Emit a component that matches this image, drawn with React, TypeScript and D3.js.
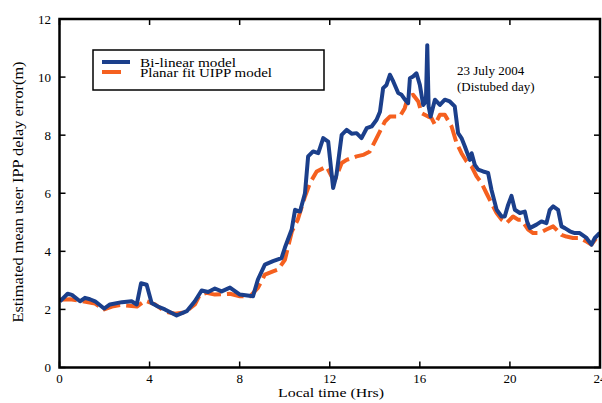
import React from 'react'
import * as d3 from 'd3'

// Bi-linear model: [hour, error (m)]
const bilinear: [number, number][] = [
  [0.02, 2.28], [0.36, 2.54], [0.55, 2.5], [0.91, 2.28], [1.13, 2.4], [1.35, 2.35],
  [1.58, 2.28], [1.98, 2.03], [2.24, 2.17], [2.77, 2.25], [3.2, 2.28], [3.43, 2.17],
  [3.62, 2.9], [3.87, 2.85], [4.09, 2.22], [4.37, 2.1], [4.68, 2.0], [5.2, 1.79],
  [5.65, 1.94], [6.01, 2.28], [6.31, 2.65], [6.6, 2.6], [6.9, 2.72], [7.2, 2.62],
  [7.57, 2.75], [8.01, 2.51], [8.59, 2.45], [8.81, 3.03], [9.12, 3.54], [9.48, 3.66],
  [9.86, 3.77], [10.01, 4.13], [10.31, 4.75], [10.46, 5.43], [10.68, 5.37], [10.9, 6.0],
  [11.04, 7.27], [11.26, 7.44], [11.49, 7.38], [11.71, 7.9], [11.93, 7.78], [12.15, 6.18],
  [12.3, 6.64], [12.53, 8.01], [12.75, 8.18], [12.97, 8.05], [13.19, 8.07], [13.41, 7.9],
  [13.64, 8.24], [13.86, 8.3], [14.08, 8.53], [14.23, 8.81], [14.37, 9.62], [14.52, 9.73],
  [14.67, 10.08], [14.82, 9.85], [15.04, 9.45], [15.19, 9.39], [15.34, 9.22], [15.48, 9.1],
  [15.56, 9.96], [15.7, 10.02], [15.85, 10.13], [16.0, 9.73], [16.15, 9.04], [16.27, 9.16],
  [16.33, 11.1], [16.39, 8.99], [16.48, 8.64], [16.67, 9.22], [16.89, 9.04], [17.11, 9.22],
  [17.33, 9.16], [17.55, 8.99], [17.7, 8.07], [17.85, 7.9], [18.0, 7.61], [18.22, 7.15],
  [18.3, 7.38], [18.44, 6.98], [18.59, 6.81], [18.81, 6.75], [19.03, 6.7], [19.18, 6.12],
  [19.41, 5.43], [19.63, 5.2], [19.77, 5.2], [19.92, 5.6], [20.07, 5.91], [20.22, 5.43],
  [20.44, 5.32], [20.66, 5.37], [20.76, 5.03], [20.88, 4.8], [21.18, 4.92], [21.4, 5.03],
  [21.62, 4.97], [21.77, 5.43], [21.92, 5.55], [22.14, 5.43], [22.29, 4.86], [22.44, 4.8],
  [22.66, 4.69], [22.88, 4.63], [23.1, 4.63], [23.4, 4.46], [23.62, 4.23], [23.77, 4.46],
  [23.99, 4.63],
]

// Planar fit UIPP model: [hour, error (m)]
const planar: [number, number][] = [
  [0.02, 2.33], [0.47, 2.35], [0.91, 2.3], [1.58, 2.2], [1.98, 2.0], [2.33, 2.1],
  [2.69, 2.15], [3.44, 2.1], [3.8, 2.3], [4.24, 2.17], [4.68, 1.93], [5.13, 1.85],
  [5.57, 1.9], [6.01, 2.17], [6.23, 2.5], [6.53, 2.57], [6.9, 2.51], [7.57, 2.54],
  [8.01, 2.45], [8.46, 2.45], [8.81, 2.74], [9.12, 3.2], [9.48, 3.31], [9.7, 3.37],
  [10.01, 3.71], [10.32, 4.69], [10.58, 5.09], [10.9, 5.89], [11.12, 6.35], [11.42, 6.75],
  [11.86, 6.92], [12.08, 6.58], [12.23, 6.46], [12.53, 7.04], [12.75, 7.15], [13.19, 7.27],
  [13.48, 7.32], [13.78, 7.44], [14.0, 7.78], [14.23, 8.13], [14.45, 8.47], [14.67, 8.64],
  [15.11, 8.64], [15.33, 8.93], [15.48, 9.33], [15.7, 9.39], [15.93, 9.16], [16.08, 8.76],
  [16.37, 8.64], [16.52, 8.59], [16.67, 8.36], [16.89, 8.7], [17.11, 8.7], [17.41, 8.3],
  [17.63, 7.73], [17.85, 7.38], [18.07, 7.1], [18.3, 6.92], [18.52, 6.58], [18.74, 6.35],
  [18.96, 6.0], [19.18, 5.66], [19.41, 5.32], [19.63, 5.09], [19.85, 4.97], [20.14, 5.2],
  [20.36, 5.09], [20.51, 5.09], [20.81, 4.75], [21.03, 4.63], [21.33, 4.63], [21.62, 4.75],
  [21.92, 4.86], [22.29, 4.57], [22.51, 4.51], [22.8, 4.46], [23.1, 4.46], [23.4, 4.34],
  [23.62, 4.23], [23.84, 4.46],
]

const xTicks = [0, 4, 8, 12, 16, 20, 24]
const yTicks = [0, 2, 4, 6, 8, 10, 12]
const seriesNames = ['Bi-linear model', 'Planar fit UIPP model']
const note = ['23 July 2004', '(Distubed day)']

const BLUE = '#1b3f8b'
const ORANGE = '#f5601f'
const FONT = '"Liberation Serif", "Times New Roman", serif'

const W = 602
const H = 403
const m = { left: 59.5, right: 600, top: 19, bottom: 367.5 }

const App = () => {
  const x = d3.scaleLinear().domain([0, 24]).range([m.left, m.right])
  const y = d3.scaleLinear().domain([0, 12]).range([m.bottom, m.top])
  const line = d3
    .line<[number, number]>()
    .x(d => x(d[0]))
    .y(d => y(d[1]))

  const tick = 6
  return (
    <svg
      width={W}
      height={H}
      style={{ position: 'absolute', left: 0, top: 0, background: '#fff' }}
      fontFamily={FONT}
    >
      <defs>
        <clipPath id="plot">
          <rect x={m.left} y={m.top} width={m.right - m.left} height={m.bottom - m.top} />
        </clipPath>
      </defs>

      <g clipPath="url(#plot)">
        <path
          d={line(planar) || ''}
          fill="none"
          stroke={ORANGE}
          strokeWidth={4}
          strokeDasharray="17,6"
          strokeLinejoin="round"
        />
        <path
          d={line(bilinear) || ''}
          fill="none"
          stroke={BLUE}
          strokeWidth={4}
          strokeLinejoin="round"
        />
      </g>

      {/* frame */}
      <rect
        x={m.left}
        y={m.top}
        width={m.right - m.left}
        height={m.bottom - m.top}
        fill="none"
        stroke="#000"
        strokeWidth={2.5}
      />

      {xTicks.map(t => (
        <g key={'x' + t}>
          <line x1={x(t)} x2={x(t)} y1={m.bottom} y2={m.bottom - tick} stroke="#000" strokeWidth={1.5} />
          <line x1={x(t)} x2={x(t)} y1={m.top} y2={m.top + tick} stroke="#000" strokeWidth={1.5} />
          <text x={x(t)} y={383} textAnchor="middle" fontSize={13}>
            {t}
          </text>
        </g>
      ))}
      {yTicks.map(t => (
        <g key={'y' + t}>
          <line x1={m.left} x2={m.left + tick} y1={y(t)} y2={y(t)} stroke="#000" strokeWidth={1.5} />
          <line x1={m.right} x2={m.right - tick} y1={y(t)} y2={y(t)} stroke="#000" strokeWidth={1.5} />
          <text x={51} y={y(t) + 4.5} textAnchor="end" fontSize={13}>
            {t}
          </text>
        </g>
      ))}

      <text x={331} y={397} textAnchor="middle" fontSize={13} textLength={106} lengthAdjust="spacingAndGlyphs">
        Local time (Hrs)
      </text>
      <text
        transform={`translate(23,192) rotate(-90)`}
        textAnchor="middle"
        fontSize={14.5}
        textLength={261}
        lengthAdjust="spacingAndGlyphs"
      >
        Estimated mean user IPP delay error(m)
      </text>

      {/* legend */}
      <rect x={93} y={50} width={231} height={40} fill="#fff" stroke="#000" strokeWidth={1.5} />
      <line x1={102} x2={130} y1={62} y2={62} stroke={BLUE} strokeWidth={4} />
      <line x1={102} x2={121} y1={72} y2={72} stroke={ORANGE} strokeWidth={4} />
      <text x={140} y={66.5} fontSize={12} textLength={96} lengthAdjust="spacingAndGlyphs">
        {seriesNames[0]}
      </text>
      <text x={140} y={76.5} fontSize={12} textLength={132} lengthAdjust="spacingAndGlyphs">
        {seriesNames[1]}
      </text>

      <text x={457} y={75} fontSize={13}>
        {note[0]}
      </text>
      <text x={457} y={90.5} fontSize={13}>
        {note[1]}
      </text>
    </svg>
  )
}

export default App
